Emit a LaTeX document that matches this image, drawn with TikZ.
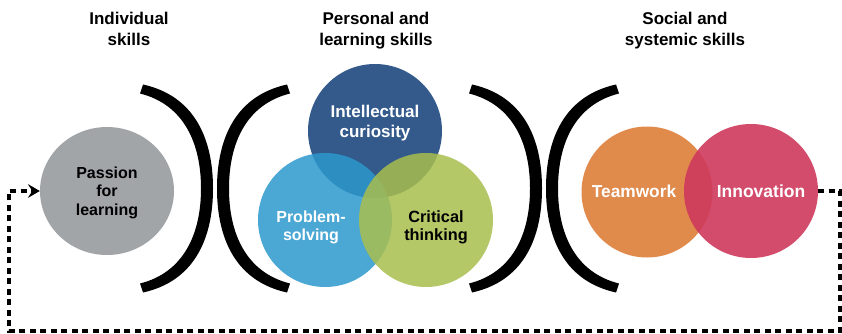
\documentclass[tikz,border=0pt]{standalone}
\usepackage{fontspec}
\setmainfont{Liberation Sans}
\usetikzlibrary{arrows.meta,shapes.geometric}
\definecolor{cgray}{RGB}{162,165,168}
\definecolor{cdblue}{RGB}{52,90,140}
\definecolor{clblue}{RGB}{44,152,204}
\definecolor{cgreen}{RGB}{168,190,78}
\definecolor{corange}{RGB}{224,138,76}
\definecolor{cred}{RGB}{206,56,92}
\tikzset{
  hdr/.style={font=\bfseries\fontsize{17}{21}\selectfont, align=center, inner sep=0pt, text=black},
  lbl/.style={font=\bfseries\fontsize{16.5}{19}\selectfont, align=center, inner sep=0pt},
  blob/.style={ellipse, draw=none, inner sep=0pt},
  feedback/.style={line width=3.4pt, dash pattern=on 6pt off 4.5pt, -{Stealth[length=12pt,width=14pt,inset=4.5pt,line width=0pt]}},
  rbracket/.pic={\fill[black] (-72,-104) .. controls (-22,-93) and (-2,-52) .. (-2,0)
      .. controls (-2,52) and (-22,93) .. (-72,104) -- (-75,95)
      .. controls (-31,84) and (-14,45) .. (-14,0)
      .. controls (-14,-45) and (-31,-84) .. (-75,-95) -- cycle;}
}
\begin{document}
\begin{tikzpicture}[x=1pt,y=-1pt]
\useasboundingbox (0,0) rectangle (842,334);
% headers
\node[hdr] (h1) at (129,29) {Individual\\skills};
\node[hdr] (h2) at (376,30.5) {Personal and\\learning skills};
\node[hdr] (h3) at (685,30.5) {Social and\\systemic skills};
% circles
\node[blob, fill=cgray, minimum width=134, minimum height=128] (passion) at (107,191) {};
\node[blob, fill=cdblue, minimum size=134] (curiosity) at (375,131) {};
\node[blob, fill=clblue, fill opacity=0.85, minimum size=134] (problem) at (325,220) {};
\node[blob, fill=cgreen, fill opacity=0.85, minimum size=134] (critical) at (426,220) {};
\node[blob, fill=corange, minimum size=131] (teamwork) at (647,192) {};
\node[blob, fill=cred, fill opacity=0.9, minimum size=134] (innovation) at (751,191) {};
% labels
\node[lbl, text=black, font=\bfseries\fontsize{16}{18.5}\selectfont] (tpassion) at (107,192.4) {Passion\\for\\learning};
\node[lbl, text=white, font=\bfseries\fontsize{17}{20}\selectfont] (tcuriosity) at (375,123.6) {Intellectual\\curiosity};
\node[lbl, text=white, font=\bfseries\fontsize{16}{18}\selectfont] (tproblem) at (311,227) {Problem-\\solving};
\node[lbl, text=black, font=\bfseries\fontsize{16.3}{18}\selectfont] (tcritical) at (436,227) {Critical\\thinking};
\node[lbl, text=white, anchor=base, font=\bfseries\fontsize{17.3}{20}\selectfont] (tteam) at (634,197) {Teamwork};
\node[lbl, text=white, anchor=base, font=\bfseries\fontsize{17.5}{20}\selectfont] (tinno) at (761,197) {Innovation};
% brackets
\pic at (215,188.5) {rbracket};
\pic[xscale=-1] at (215,188.5) {rbracket};
\pic at (544,188.5) {rbracket};
\pic[xscale=-1] at (544,188.5) {rbracket};
% feedback loop
\coordinate (br) at (840,331);
\coordinate (bl) at (9,331);
\draw[feedback] (innovation.east) -| (br) -- (bl) |- (passion.west);
\end{tikzpicture}
\end{document}
